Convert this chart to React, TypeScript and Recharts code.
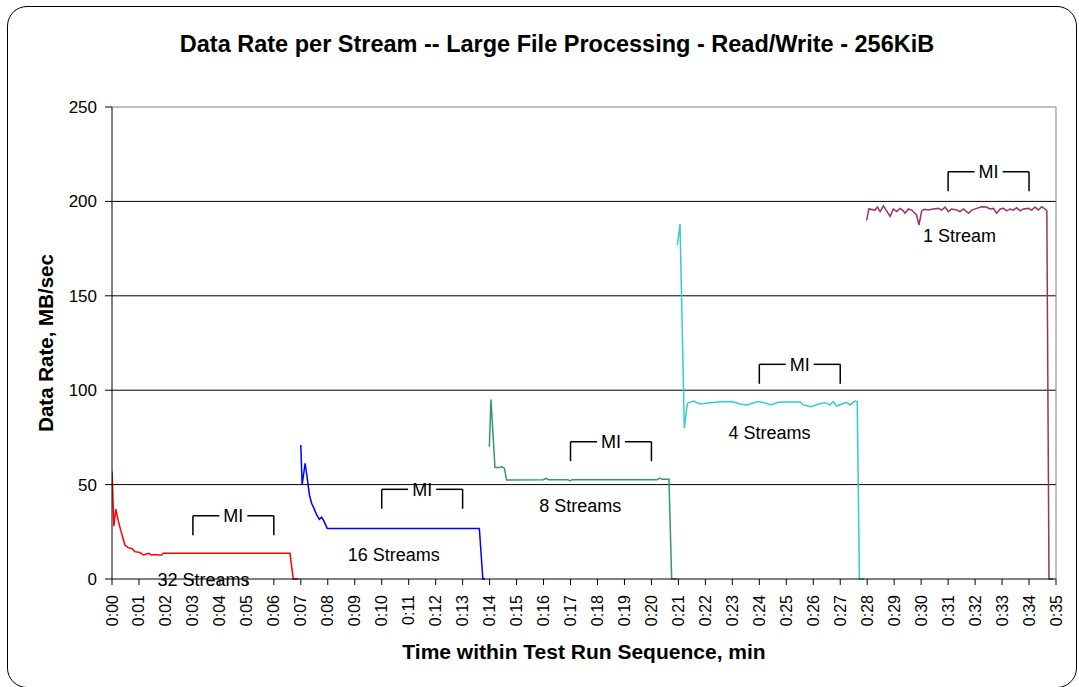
import React from 'react';
import { LineChart, Line, XAxis, YAxis, CartesianGrid, ReferenceLine, ReferenceDot } from 'recharts';

// time in minutes, rate in MB/sec
const streams32Time = [0, 0.07, 0.14, 0.23, 0.32, 0.4, 0.48, 0.6, 0.73, 0.85, 1.04, 1.16, 1.35, 1.47, 1.6, 1.72, 1.84, 1.9, 6.6, 6.72, 6.91];
const streams32Rate = [57, 28, 37, 31, 26, 22, 18, 16.6, 16.2, 14.5, 14, 12.7, 13.6, 12.7, 13, 12.7, 12.7, 13.6, 13.6, 0, 0];

const streams16Time = [7.0, 7.05, 7.16, 7.24, 7.32, 7.4, 7.49, 7.59, 7.69, 7.77, 7.84, 7.98, 13.62, 13.75, 13.83];
const streams16Rate = [71, 49.8, 61.3, 53.3, 44.5, 40.1, 37.4, 33.9, 31.6, 32.7, 31.2, 26.8, 26.8, 0, 0];

const streams8Time = [13.99, 14.05, 14.2, 14.35, 14.45, 14.55, 14.63, 16.0, 16.09, 16.18, 16.9, 16.98, 17.06, 20.2, 20.32, 20.4, 20.65, 20.75, 20.94];
const streams8Rate = [70, 95, 59, 59, 59.5, 58.6, 52.4, 52.6, 53.3, 52.6, 52.6, 52, 52.6, 52.6, 53.4, 52.8, 52.8, 0, 0];

const streams4Time = [20.96, 21.06, 21.22, 21.33, 21.55, 21.8, 22.17, 22.54, 22.98, 23.29, 23.53, 23.96, 24.28, 24.4, 24.71, 25.02, 25.51, 25.63, 25.94, 26.19, 26.44, 26.62, 26.74, 26.87, 27.06, 27.24, 27.36, 27.55, 27.63, 27.71, 27.88];
const streams4Rate = [177, 188, 80, 93, 94.3, 92.7, 93.4, 93.9, 94, 92.7, 92.2, 94, 93, 92.2, 93.6, 93.8, 93.8, 92.2, 91.3, 92.7, 93.4, 92.2, 93.9, 91.6, 92.7, 93.6, 92.2, 94.3, 94, 0, 0];

const streams1Time = [27.98, 28.06, 28.29, 28.38, 28.48, 28.6, 28.72, 28.85, 28.97, 29.09, 29.22, 29.34, 29.4, 29.53, 29.65, 29.77, 29.83, 29.92, 30.02, 30.11, 30.27, 30.45, 30.64, 30.76, 30.89, 31.01, 31.13, 31.32, 31.44, 31.57, 31.75, 31.88, 32.06, 32.25, 32.43, 32.55, 32.68, 32.8, 32.93, 33.05, 33.17, 33.3, 33.42, 33.54, 33.67, 33.79, 33.98, 34.1, 34.22, 34.35, 34.47, 34.59, 34.66, 34.74, 34.89];
const streams1Rate = [190, 196, 195.4, 197, 194.6, 197.6, 195, 192, 196, 194.6, 196.3, 195, 193.7, 196, 195.4, 193.7, 192.8, 187.5, 195, 195.8, 195.4, 196, 196.3, 195.4, 197, 194.6, 196, 195.4, 194.6, 196, 193.7, 195.4, 196.3, 197.2, 197, 196, 196.3, 193.7, 196, 196.3, 195, 196, 195.4, 196.7, 195, 196, 196.3, 195.4, 197, 195.4, 197.2, 196, 195, 0, 0];

const xTicks = Array.from({ length: 36 }, (_, i) => i);
const yTicks = [0, 50, 100, 150, 200, 250];

// measurement interval brackets (start, end, bracket top)
const miFrom = [3, 10, 17, 24, 31];
const miTo = [6, 13, 20, 27, 34];
const miLevel = [33.5, 47.5, 72.7, 113.7, 215.7];

const streamLabels = ['32 Streams', '16 Streams', '8 Streams', '4 Streams', '1 Stream'];
const labelTime = [3.39, 10.45, 17.36, 24.38, 31.42];
const labelRate = [-0.5, 12.7, 38.7, 77.5, 181.7];

const toPoints = (time: number[], rate: number[]) => time.map((t, i) => ({ t, v: rate[i] }));

const series = [
  { name: '32 Streams', data: toPoints(streams32Time, streams32Rate), color: '#FF0000' },
  { name: '16 Streams', data: toPoints(streams16Time, streams16Rate), color: '#0000FF' },
  { name: '8 Streams', data: toPoints(streams8Time, streams8Rate), color: '#339966' },
  { name: '4 Streams', data: toPoints(streams4Time, streams4Rate), color: '#33CCCC' },
  { name: '1 Stream', data: toPoints(streams1Time, streams1Rate), color: '#993366' },
];

const FONT = '"Liberation Sans", Arial, sans-serif';
const BRACKET_DROP = 10.3;
const GAP = 0.52;

const fmtTime = (m: number) => `0:${String(m).padStart(2, '0')}`;

const TimeTick = (props: any) => {
  const { x, y, payload } = props;
  return (
    <text
      x={x}
      y={y}
      transform={`rotate(-90 ${x} ${y})`}
      textAnchor="end"
      dominantBaseline="central"
      fontSize={16}
      fontFamily={FONT}
      fill="#000"
    >
      {fmtTime(payload.value)}
    </text>
  );
};

const App: React.FC = () => {
  return (
    <div style={{ position: 'relative', width: 1079, height: 687, background: '#fff', overflow: 'hidden' }}>
      <style>{`body{margin:0}`}</style>
      {/* rounded frame */}
      <div
        style={{
          position: 'absolute',
          left: 7,
          top: 6,
          width: 1068,
          height: 680,
          border: '1px solid #000',
          borderRadius: 20,
        }}
      />
      <LineChart
        width={1079}
        height={687}
        margin={{ top: 107, right: 23, left: 52, bottom: 48 }}
        style={{ position: 'absolute', left: 0, top: 0, fontFamily: FONT }}
      >
        <CartesianGrid vertical={false} horizontalValues={[50, 100, 150, 200]} stroke="#000" strokeWidth={1} />
        <ReferenceLine y={250} stroke="#808080" strokeWidth={1} />
        <ReferenceLine x={35} stroke="#808080" strokeWidth={1} />
        <XAxis
          dataKey="t"
          type="number"
          domain={[0, 35]}
          ticks={xTicks}
          interval={0}
          allowDataOverflow
          height={60}
          tickSize={6}
          tickMargin={10}
          tick={<TimeTick />}
          stroke="#000"
          axisLine={{ stroke: '#000' }}
          tickLine={{ stroke: '#000' }}
        />
        <YAxis
          type="number"
          domain={[0, 250]}
          ticks={yTicks}
          interval={0}
          width={60}
          tickSize={7}
          tickMargin={8}
          tick={{ fill: '#000', fontSize: 17, fontFamily: FONT }}
          axisLine={{ stroke: '#000' }}
          tickLine={{ stroke: '#000' }}
        />
        {series.map((s) => (
          <Line
            key={s.name}
            data={s.data}
            dataKey="v"
            name={s.name}
            type="linear"
            stroke={s.color}
            strokeWidth={1.5}
            dot={false}
            activeDot={false}
            isAnimationActive={false}
          />
        ))}
        {miFrom.map((from, i) => {
          const to = miTo[i];
          const mid = (from + to) / 2;
          const top = miLevel[i];
          const bottom = top - BRACKET_DROP;
          return (
            <React.Fragment key={`mi-${i}`}>
              <ReferenceLine segment={[{ x: from, y: top }, { x: mid - GAP, y: top }]} stroke="#000" strokeWidth={1.5} />
              <ReferenceLine segment={[{ x: mid + GAP, y: top }, { x: to, y: top }]} stroke="#000" strokeWidth={1.5} />
              <ReferenceLine segment={[{ x: from, y: top }, { x: from, y: bottom }]} stroke="#000" strokeWidth={1.5} />
              <ReferenceLine segment={[{ x: to, y: top }, { x: to, y: bottom }]} stroke="#000" strokeWidth={1.5} />
              <ReferenceDot
                x={mid}
                y={top}
                r={0}
                fill="none"
                stroke="none"
                label={{ value: 'MI', position: 'center', fill: '#000', fontSize: 18, fontFamily: FONT }}
              />
            </React.Fragment>
          );
        })}
        {streamLabels.map((text, i) => (
          <ReferenceDot
            key={text}
            x={labelTime[i]}
            y={labelRate[i]}
            r={0}
            fill="none"
            stroke="none"
            ifOverflow="visible"
            label={{ value: text, position: 'center', fill: '#000', fontSize: 18, fontFamily: FONT }}
          />
        ))}
      </LineChart>
      <svg width={1079} height={687} style={{ position: 'absolute', left: 0, top: 0, pointerEvents: 'none' }}>
        <text x={557} y={44} textAnchor="middle" dominantBaseline="central" fontSize={23.5} fontWeight="bold" fontFamily={FONT}>
          Data Rate per Stream -- Large File Processing - Read/Write - 256KiB
        </text>
        <text
          x={45}
          y={343}
          transform="rotate(-90 45 343)"
          textAnchor="middle"
          dominantBaseline="central"
          fontSize={20.5}
          fontWeight="bold"
          fontFamily={FONT}
        >
          Data Rate, MB/sec
        </text>
        <text x={584} y={651} textAnchor="middle" dominantBaseline="central" fontSize={21} fontWeight="bold" fontFamily={FONT}>
          Time within Test Run Sequence, min
        </text>
      </svg>
    </div>
  );
};

export default App;
